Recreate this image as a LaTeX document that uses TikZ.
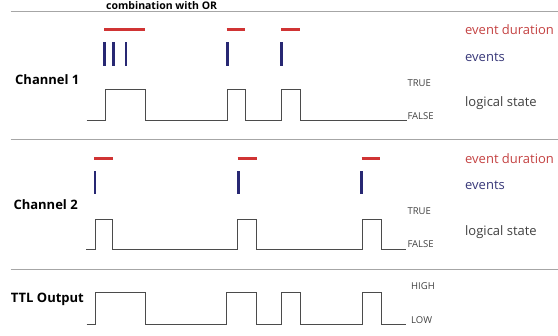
\documentclass[tikz,border=0pt]{standalone}
\usepackage{fontspec}
\setmainfont{Open Sans}
\definecolor{durred}{RGB}{208,52,52}
\definecolor{evblue}{RGB}{40,40,115}
\definecolor{durtext}{RGB}{196,66,66}
\definecolor{evtext}{RGB}{55,55,120}
\definecolor{sig}{RGB}{75,75,75}
\begin{document}
\begin{tikzpicture}[x=1pt,y=-1pt,
  sep/.style={gray!70,line width=0.9pt},
  dur/.style={durred,line width=2.6pt},
  ev/.style={evblue,line width=2.4pt},
  signal/.style={sig,line width=1.2pt},
  chan/.style={font=\bfseries\fontsize{13}{15}\selectfont,anchor=west,inner sep=0pt},
  level/.style={font=\fontsize{9.5}{11}\selectfont,anchor=base west,inner sep=0pt,text=black!75},
  legend/.style={font=\fontsize{13}{15}\selectfont,anchor=base west,inner sep=0pt}]
\clip (0,0) rectangle (558,336);
\useasboundingbox (0,0) rectangle (558,336);

\node (title) at (106,9.5) [anchor=base west,inner sep=0pt,font=\bfseries\fontsize{10.5}{12}\selectfont] {combination with OR};
\draw [sep] (10.5,11.5) -- (558,11.5);
\draw [sep] (10.5,139.5) -- (558,139.5);
\draw [sep] (10.5,269.5) -- (558,269.5);

% channel 1
\node (ch1) at (15,79.5) [chan] {Channel 1};
\draw [dur] (104,29.5) -- (145,29.5);
\draw [dur] (226.5,29.5) -- (245,29.5);
\draw [dur] (281,29.5) -- (300,29.5);
\foreach \x in {104.5,113.5,126,227.5,281.5}
  \draw [ev] (\x,42.5) -- (\x,66);
\draw [signal] (86.5,120.5) -| (105.5,89.5) -| (145.5,120.5) -| (227.5,89.5) -| (245.5,120.5)
  -| (281.5,89.5) -| (300.5,120.5) -- (406.5,120.5);
\node (true1) at (407.3,86.7) [level] {TRUE};
\node (false1) at (407.3,119.3) [level] {FALSE};
\node (dur1) at (465,35) [legend,text=durtext] {event duration};
\node (ev1) at (465,61.5) [legend,text=evtext] {events};
\node (log1) at (465,106.7) [legend,text=black!75] {logical state};

% channel 2
\node (ch2) at (13.3,205) [chan] {Channel 2};
\draw [dur] (94,158.5) -- (113,158.5);
\draw [dur] (237.5,158.5) -- (256.5,158.5);
\draw [dur] (361.5,158.5) -- (380,158.5);
\foreach \x in {95,238.5,361.5}
  \draw [ev] (\x,171.5) -- (\x,194.5);
\draw [signal] (86,249.5) -| (95.5,219.5) -| (112.5,249.5) -| (237.5,219.5) -| (256.5,249.5)
  -| (362.5,219.5) -| (381.5,249.5) -- (406,249.5);
\node (true2) at (407.3,215) [level] {TRUE};
\node (false2) at (407.3,247.3) [level] {FALSE};
\node (dur2) at (465,163.3) [legend,text=durtext] {event duration};
\node (ev2) at (465,190) [legend,text=evtext] {events};
\node (log2) at (465,236) [legend,text=black!75] {logical state};

% TTL output
\node (ttl) at (10.7,299.3) [chan] {TTL Output};
\draw [signal] (86.5,324.5) -| (95.5,292.5) -| (145.5,324.5) -| (226.5,292.5) -| (256.5,324.5)
  -| (281.5,292.5) -| (300.5,324.5) -| (362.5,292.5) -| (381.5,324.5) -- (406,324.5);
\node (high) at (411,290) [level] {HIGH};
\node (low) at (411,323.5) [level] {LOW};
\end{tikzpicture}
\end{document}
